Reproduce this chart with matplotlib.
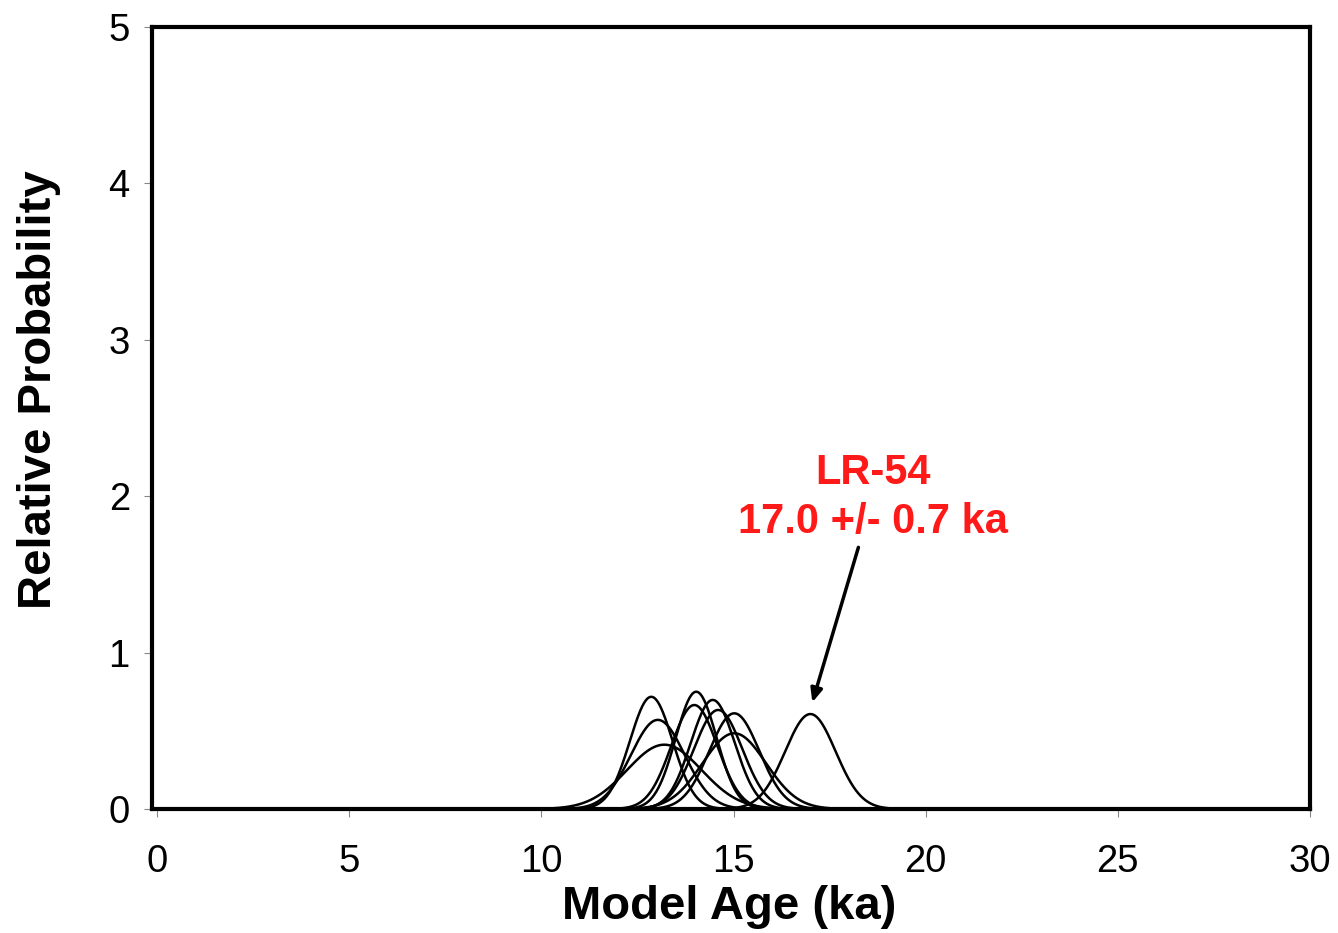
import numpy as np
import matplotlib.pyplot as plt

plt.rcParams['font.family'] = ['Liberation Sans', 'DejaVu Sans']

# Model ages (ka) and 1-sigma errors of the samples
ages = [12.86, 13.03, 13.2, 14.03, 13.98, 14.46, 14.6, 15.02, 15.02, 17.0]
errors = [0.556, 0.70, 0.97, 0.532, 0.60, 0.572, 0.63, 0.652, 0.824, 0.657]

label_text = "LR-54\n17.0 +/- 0.7 ka"

x_ticks = [0, 5, 10, 15, 20, 25, 30]
y_ticks = [0, 1, 2, 3, 4, 5]

t = np.linspace(0, 30, 3000)

fig = plt.figure(figsize=(13.38, 9.33), dpi=100)
ax = fig.add_axes([0.1136, 0.1329, 0.8655, 0.8381])

for mu, s in zip(ages, errors):
    p = np.exp(-0.5 * ((t - mu) / s) ** 2) / (s * np.sqrt(2 * np.pi))
    ax.plot(t, p, color="black", lw=1.8)

ax.set_xlim(-0.13, 30)
ax.set_ylim(0, 5)
ax.set_xticks(x_ticks)
ax.set_yticks(y_ticks)
ax.tick_params(axis="both", direction="out", length=6, width=0.8, color="#888888",
               labelsize=27.5)
ax.tick_params(axis="x", pad=19)
ax.tick_params(axis="y", pad=10)
for sp in ax.spines.values():
    sp.set_linewidth(3)

ax.set_xlabel("Model Age (ka)", fontsize=34, fontweight="bold", va="center")
ax.xaxis.set_label_coords(0.498, -0.1253)
ax.set_ylabel("Relative Probability", fontsize=34, fontweight="bold", va="center")
ax.yaxis.set_label_coords(-0.0976, 0.536)

ax.text(18.64, 1.99, label_text, color="#ff1a1a", fontsize=30, fontweight="bold",
        ha="center", va="center", multialignment="center", linespacing=1.3)
ax.annotate("", xy=(17.03, 0.665), xytext=(18.27, 1.69),
            arrowprops=dict(arrowstyle="-|>,head_length=0.8,head_width=0.35",
                            color="black", lw=2.5))

fig.savefig("out.png", dpi=100)
